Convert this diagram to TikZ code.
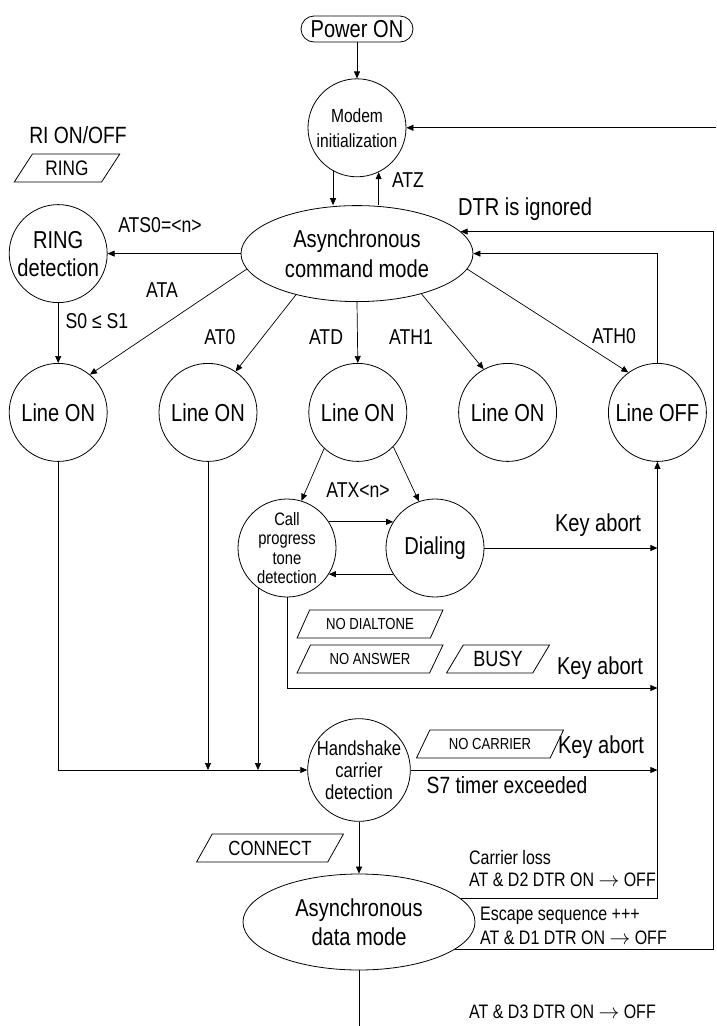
\documentclass[tikz,border=0pt]{standalone}
\usepackage{fontspec}
\setmainfont{Liberation Sans}[FakeStretch=0.82]
\usetikzlibrary{positioning,shapes.geometric,arrows.meta}

\begin{document}
\begin{tikzpicture}[x=1pt,y=-1pt]
		\tikzstyle{main}=[circle, minimum size=98pt, inner sep=0pt, draw, line width=0.8pt, align=center, font=\fontsize{24.5}{28}\selectfont]
		\tikzstyle{mode}=[ellipse, minimum width=232pt, minimum height=96pt, inner sep=0pt, draw, line width=0.8pt, align=center, font=\fontsize{24.5}{29.5}\selectfont]
		\tikzstyle{msg}=[trapezium, trapezium left angle=55, trapezium right angle=125, trapezium stretches=true, minimum height=28pt, inner sep=1pt, draw, line width=0.8pt]
		\tikzstyle{connect}=[-{Triangle[length=7pt,width=6pt]}, line width=0.7pt]
		\tikzstyle{big}=[inner sep=0pt, font=\fontsize{24.5}{28}\selectfont]
		\tikzstyle{lbl}=[inner sep=0pt, font=\fontsize{21.5}{24}\selectfont]
		\tikzstyle{note}=[inner sep=0pt, align=left, font=\fontsize{19.5}{22}\selectfont]
		\useasboundingbox (0,0) rectangle (716,1026);
		\coordinate (re) at (716,0);
		\coordinate (rr) at (713,0);
		\coordinate (k2) at (0,688);
		\coordinate (bot) at (0,1026);
		\node[draw, line width=0.8pt, rounded corners=13pt, minimum width=112pt, minimum height=26pt, inner sep=0pt, font=\fontsize{24.5}{28}\selectfont] (power) at (357,29) {Power ON};
		\node[main, font=\fontsize{19}{25}\selectfont] (modem) [below=36pt of power] {Modem\\initialization};
		\node[mode] (cmd) [below=28pt of modem] {Asynchronous\\command mode};
		\node[main] (ring) [left=133pt of cmd] {RING\\detection};
		\node[main] (on1) [below=60pt of ring] {Line ON};
		\node[main] (on2) [right=51pt of on1] {Line ON};
		\node[main] (on3) [right=51pt of on2] {Line ON};
		\node[main] (on4) [right=51pt of on3] {Line ON};
		\node[main] (off) [right=51pt of on4] {Line OFF};
		\node[main, font=\fontsize{18}{19.5}\selectfont] (cpt) at (287,548) {Call\\progress\\tone\\detection};
		\node[main] (dial) at (435,548) {Dialing};
		\node[main, font=\fontsize{20.3}{22}\selectfont] (hs) at (359,770) {Handshake\\carrier\\detection};
		\node[mode] (data) at (359,922) {Asynchronous\\data mode};
		% messages
		\node[msg, minimum width=106pt, font=\fontsize{21}{24}\selectfont] (ringmsg) at (67,168) {RING};
		\node[msg, minimum width=146pt, font=\fontsize{16}{18}\selectfont] (nodial) at (370,624) {NO DIALTONE};
		\node[msg, minimum width=146pt, font=\fontsize{16}{18}\selectfont] (noans) at (370,659) {NO ANSWER};
		\node[msg, minimum width=103pt, font=\fontsize{22}{24}\selectfont] (busy) at (498,659) {BUSY};
		\node[msg, minimum width=147pt, font=\fontsize{16}{18}\selectfont] (nocarr) at (490,744) {NO CARRIER};
		\node[msg, minimum width=147pt, font=\fontsize{20.5}{24}\selectfont] (conn) at (270,848) {CONNECT};
		% labels
		\node[big, font=\fontsize{23.5}{28}\selectfont] (rilbl) at (78,135) {RI ON/OFF};
		\node[lbl] (atz) at (408,180) {ATZ};
		\node[lbl] (ats) at (160,225) {ATS0=<n>};
		\node[lbl] (ata) at (162,290) {ATA};
		\node[lbl] (s0) at (97,321) {S0 ≤ S1};
		\node[lbl] (at0) at (220,337) {AT0};
		\node[lbl] (atd) at (326,337) {ATD};
		\node[lbl] (ath1) at (411,337) {ATH1};
		\node[lbl] (ath0) at (614,336) {ATH0};
		\node[lbl] (atx) at (358,490) {ATX<n>};
		\node[big] (dtr) at (525,209) {DTR is ignored};
		\node[big] (ka1) at (598,525) {Key abort};
		\node[big] (ka2) at (600,668) {Key abort};
		\node[big] (ka3) at (601,747) {Key abort};
		\node[big, font=\fontsize{23.5}{28}\selectfont] (s7) at (507,785) {S7 timer exceeded};
		\node[note, anchor=west] (closs) at (469,869) {Carrier loss\\AT \& D2 DTR ON $\rightarrow$ OFF};
		\node[note, anchor=west, font=\fontsize{19.5}{23.5}\selectfont] (esc) at (480,926) {Escape sequence +++\\AT \& D1 DTR ON $\rightarrow$ OFF};
		\node[note, anchor=west] (d3) at (469,1012) {AT \& D3 DTR ON $\rightarrow$ OFF};
		% connectors
		\path (power) edge [connect] (modem)
		(cmd.west) edge [connect] (ring.east)
		(ring) edge [connect] (on1)
		(cmd.188) edge [connect] (on1.50)
		(cmd.214) edge [connect] (on2.56)
		(cmd.south) edge [connect] (on3.north)
		(cmd.328) edge [connect] (on4.119)
		(cmd.352) edge [connect] (off.126)
		(on3.227) edge [connect] (cpt.73)
		(on3.316) edge [connect] (dial.109)
		(cpt.32) edge [connect] (dial.148)
		(dial.212) edge [connect] (cpt.-32)
		(hs) edge [connect] (data);
		\draw[connect] (modem.241) -- (modem.241 |- cmd.north);
		\draw[connect] (modem.296 |- cmd.north) -- (modem.296);
		\draw[connect] (re |- modem.east) -- (modem.east);
		\draw[connect] (off.north) |- (cmd.east);
		\draw[connect] (data.-16) -| (rr |- cmd.12) -- (cmd.12);
		\draw[connect] (data.13) -| (off.south);
		\draw[connect] (dial.east) -- (dial.east -| off);
		\draw[connect] (cpt.south) |- (k2 -| off);
		\draw[connect] (hs.east) -- (hs.east -| off);
		\draw[connect] (on1.south) |- (hs.west);
		\draw[connect] (on2.south) -- (on2.south |- hs.west);
		\draw[connect] (cpt.234) -- (cpt.234 |- hs.west);
		\draw[line width=0.7pt] (data.south) -- (data.south |- bot);
\end{tikzpicture}
\end{document}
